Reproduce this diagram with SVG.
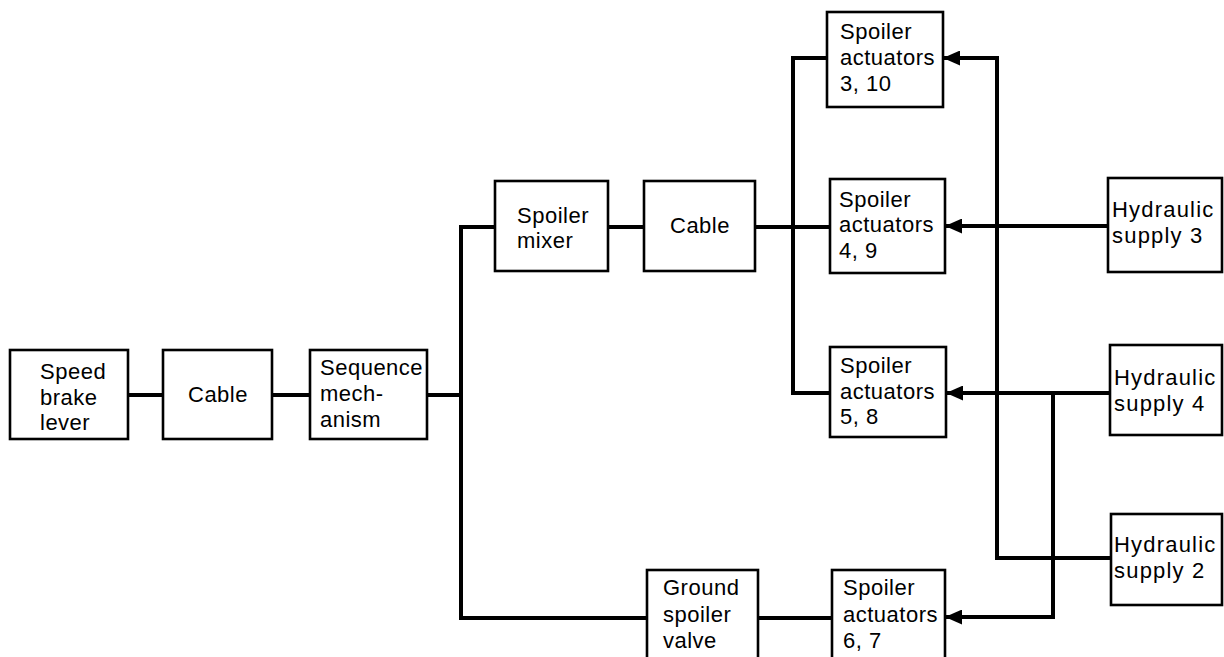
<svg xmlns="http://www.w3.org/2000/svg" width="1224" height="657" viewBox="0 0 1224 657">
<style>
.box{fill:#fff;stroke:#000;stroke-width:2.6}
.lbl{font-family:"Liberation Sans",Arial,sans-serif;font-size:22px;letter-spacing:0.5px;fill:#000}
.wide{letter-spacing:1.2px}
.wire{fill:none;stroke:#000;stroke-width:4;stroke-linejoin:miter}
</style>
<defs>
<marker id="ah" markerWidth="17" markerHeight="15" refX="16" refY="7.5" orient="auto" markerUnits="userSpaceOnUse">
<path d="M0,0 L17,7.5 L0,15 z" fill="#000"/>
</marker>
</defs>
<rect width="1224" height="657" fill="#fff"/>
<g id="connectors">
<path class="wire" d="M128,395 H163"/>
<path class="wire" d="M272,395 H310"/>
<path class="wire" d="M427,395 H461"/>
<path class="wire" d="M495,227 H461 V618 H647"/>
<path class="wire" d="M608,227 H644"/>
<path class="wire" d="M755,227 H830"/>
<path class="wire" d="M827,58 H793 V393 H830"/>
<path class="wire" d="M758,618 H832"/>
<path class="wire" d="M1111,558 H997 V58 H944" marker-end="url(#ah)"/>
<path class="wire" d="M1108,226 H946" marker-end="url(#ah)"/>
<path class="wire" d="M1110,393 H947" marker-end="url(#ah)"/>
<path class="wire" d="M1053,393 V617 H946" marker-end="url(#ah)"/>
</g>
<g id="speed-brake-lever">
<rect class="box" x="10" y="350" width="118" height="89"/>
<text class="lbl" x="40" y="379">Speed</text>
<text class="lbl" x="40" y="405">brake</text>
<text class="lbl" x="40" y="430">lever</text>
</g>
<g id="cable-1">
<rect class="box" x="163" y="350" width="109" height="89"/>
<text class="lbl" x="218" y="402" text-anchor="middle">Cable</text>
</g>
<g id="sequence-mechanism">
<rect class="box" x="310" y="350" width="117" height="89"/>
<text class="lbl" x="320" y="375">Sequence</text>
<text class="lbl" x="320" y="401">mech-</text>
<text class="lbl" x="320" y="427">anism</text>
</g>
<g id="spoiler-mixer">
<rect class="box" x="495" y="181" width="113" height="90"/>
<text class="lbl" x="517" y="223">Spoiler</text>
<text class="lbl" x="517" y="248">mixer</text>
</g>
<g id="cable-2">
<rect class="box" x="644" y="181" width="111" height="90"/>
<text class="lbl" x="700" y="233" text-anchor="middle">Cable</text>
</g>
<g id="spoiler-actuators-3-10">
<rect class="box" x="827" y="12" width="116" height="95"/>
<text class="lbl" x="840" y="39">Spoiler</text>
<text class="lbl" x="840" y="65">actuators</text>
<text class="lbl" x="840" y="91">3, 10</text>
</g>
<g id="spoiler-actuators-4-9">
<rect class="box" x="830" y="179" width="115" height="94"/>
<text class="lbl" x="839" y="207">Spoiler</text>
<text class="lbl" x="839" y="232">actuators</text>
<text class="lbl" x="839" y="258">4, 9</text>
</g>
<g id="spoiler-actuators-5-8">
<rect class="box" x="830" y="347" width="116" height="90"/>
<text class="lbl" x="840" y="373">Spoiler</text>
<text class="lbl" x="840" y="399">actuators</text>
<text class="lbl" x="840" y="424">5, 8</text>
</g>
<g id="ground-spoiler-valve">
<rect class="box" x="647" y="570" width="111" height="110"/>
<text class="lbl" x="663" y="595">Ground</text>
<text class="lbl" x="663" y="622">spoiler</text>
<text class="lbl" x="663" y="648">valve</text>
</g>
<g id="spoiler-actuators-6-7">
<rect class="box" x="832" y="570" width="113" height="110"/>
<text class="lbl" x="843" y="595">Spoiler</text>
<text class="lbl" x="843" y="622">actuators</text>
<text class="lbl" x="843" y="648">6, 7</text>
</g>
<g id="hydraulic-supply-3">
<rect class="box" x="1108" y="178" width="114" height="94"/>
<text class="lbl wide" x="1112" y="217">Hydraulic</text>
<text class="lbl wide" x="1112" y="243">supply 3</text>
</g>
<g id="hydraulic-supply-4">
<rect class="box" x="1110" y="345" width="112" height="90"/>
<text class="lbl wide" x="1114" y="385">Hydraulic</text>
<text class="lbl wide" x="1114" y="411">supply 4</text>
</g>
<g id="hydraulic-supply-2">
<rect class="box" x="1111" y="514" width="111" height="91"/>
<text class="lbl wide" x="1114" y="552">Hydraulic</text>
<text class="lbl wide" x="1114" y="578">supply 2</text>
</g>
</svg>
